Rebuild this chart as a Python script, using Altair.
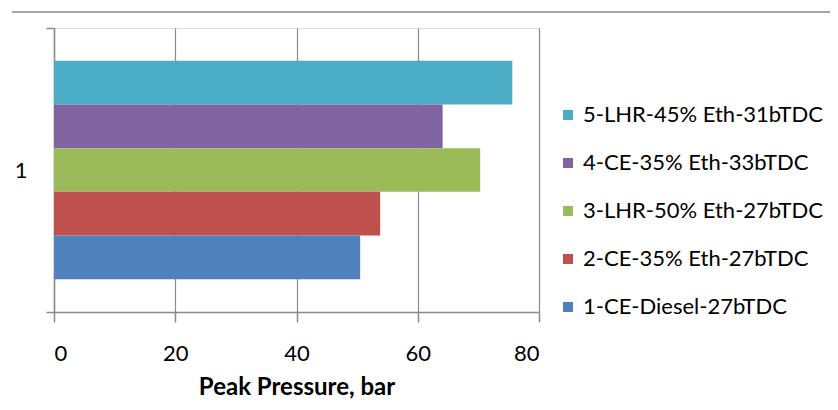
import altair as alt
import pandas as pd

series = ["5-LHR-45% Eth-31bTDC", "4-CE-35% Eth-33bTDC", "3-LHR-50% Eth-27bTDC",
          "2-CE-35% Eth-27bTDC", "1-CE-Diesel-27bTDC"]
values = [75.6, 64.1, 70.3, 53.8, 50.5]
colors = ["#4BACC6", "#8064A2", "#9BBB59", "#C0504D", "#4F81BD"]
category = ["1"] * 5
x_ticks = [0, 20, 40, 60, 80]

df = pd.DataFrame({"cat": category, "series": series, "value": values})

FONT = "Lato"
GRAY = "#8a8a8a"

bars = alt.Chart(df).mark_bar().encode(
    x=alt.X("value:Q",
            scale=alt.Scale(domain=[0, 80], nice=False),
            axis=alt.Axis(values=x_ticks, title="Peak Pressure, bar", grid=True,
                          gridColor=GRAY, gridWidth=1.2, domainColor=GRAY, domainWidth=1.5,
                          tickColor=GRAY, tickSize=10, tickWidth=1.5,
                          labelFont=FONT, labelFontSize=22, labelColor="#000000",
                          labelPadding=21, titleFont=FONT, titleFontSize=24,
                          titleFontWeight="bold", titleColor="#000000", titlePadding=11)),
    y=alt.Y("cat:N",
            scale=alt.Scale(paddingInner=0, paddingOuter=0),
            axis=alt.Axis(title=None, tickBand="extent", domainColor=GRAY, domainWidth=1.5,
                          tickColor=GRAY, tickSize=8, tickWidth=1.5,
                          labelFont=FONT, labelFontSize=22, labelColor="#000000",
                          labelPadding=19, labelAngle=0)),
    yOffset=alt.YOffset("series:N", sort=series,
                        scale=alt.Scale(paddingInner=0, paddingOuter=0.75)),
    color=alt.Color("series:N", sort=series,
                    scale=alt.Scale(domain=series, range=colors),
                    legend=alt.Legend(title=None, orient="none", legendX=503, legendY=76,
                                      symbolType="square", symbolSize=100,
                                      symbolStrokeWidth=0, labelFont=FONT,
                                      labelFontSize=22, labelColor="#000000",
                                      labelOffset=4, rowPadding=26, labelLimit=400)),
)

border = alt.Chart(df).mark_rule(color="#a6a6a6", strokeWidth=1.5).encode(
    x=alt.value(-42), x2=alt.value(800), y=alt.value(-16)
)

chart = alt.layer(border, bars).properties(
    width=485, height=284,
    autosize=alt.AutoSizeParams(type="none"),
    padding={"left": 46, "top": 20, "right": 291, "bottom": 90},
).configure_view(stroke=None).configure(background="#ffffff")

chart.save("out.html", embed_options={"renderer": "svg", "actions": False})
